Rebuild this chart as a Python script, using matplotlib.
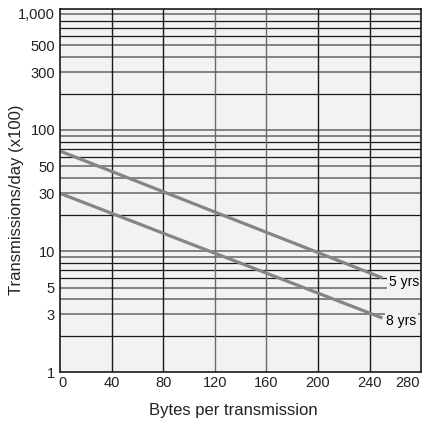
import matplotlib
matplotlib.use("Agg")
import matplotlib.pyplot as plt
import matplotlib.transforms as mtransforms

plt.rcParams['font.family'] = ['Liberation Sans', 'DejaVu Sans']

# data
bytes_x = [0, 250]
yrs5 = [67, 6]
yrs8 = [30, 2.8]
series_labels = ["5 yrs", "8 yrs"]
label_x = [255, 253]
label_y = [5.6, 2.65]

x_ticks = [0, 40, 80, 120, 160, 200, 240, 280]
y_ticks = [1, 3, 5, 10, 30, 50, 100, 300, 500, 1000]
y_tick_labels = ["1", "3", "5", "10", "30", "50", "100", "300", "500", "1,000"]

bg = "#f1f2f2"
line_col = "#858585"

fig = plt.figure(figsize=(4.22, 4.22), dpi=100)
ax = fig.add_axes([0.142, 0.118, 0.856, 0.861])
ax.set_facecolor(bg)
ax.set_yscale("log")
ax.set_xlim(0, 280)
ax.set_ylim(1, 1000)

# horizontal grid: every 2..9 of each decade
for dec in [1, 10, 100]:
    for m in range(2, 11):
        v = m * dec
        if v >= 1000:
            continue
        col = "#7a7a7a" if m in (3, 4, 5, 9, 10) else "#1a1a1a"
        lw = 1.3 if col == "#7a7a7a" else 0.9
        ax.axhline(v, color=col, lw=lw, zorder=1)

for xv in x_ticks[1:-1]:
    col = "#6a6a6a" if xv in (120, 160) else "#1a1a1a"
    ax.axvline(xv, color=col, lw=1.0, zorder=1)

ax.plot(bytes_x, yrs5, color=line_col, lw=2.3, zorder=3, solid_capstyle="butt")
ax.plot(bytes_x, yrs8, color=line_col, lw=2.3, zorder=3, solid_capstyle="butt")

for lab, lx, ly in zip(series_labels, label_x, label_y):
    ax.text(lx, ly, lab, fontsize=10, ha="left", va="center", zorder=4,
            bbox=dict(boxstyle="square,pad=0.12", fc=bg, ec="none"))

ax.set_xticks(x_ticks)
ax.set_xticklabels([str(v) for v in x_ticks])
ax.set_yticks(y_ticks)
ax.set_yticklabels(y_tick_labels)
ax.minorticks_off()
ax.tick_params(length=0, labelsize=10.5, colors="#222222")
ax.tick_params(axis="x", pad=2.5)
ax.tick_params(axis="y", pad=3.5)

xl = ax.get_xticklabels()
xl[0].set_transform(xl[0].get_transform() + mtransforms.ScaledTranslation(3 / 100, 0, fig.dpi_scale_trans))
xl[-1].set_transform(xl[-1].get_transform() + mtransforms.ScaledTranslation(-14 / 100, 0, fig.dpi_scale_trans))
yl = ax.get_yticklabels()
yl[-1].set_transform(yl[-1].get_transform() + mtransforms.ScaledTranslation(0, -5 / 100, fig.dpi_scale_trans))

for s in ax.spines.values():
    s.set_color("#1a1a1a")
    s.set_linewidth(1.2)
    s.set_zorder(5)

ax.set_xlabel("Bytes per transmission", fontsize=12, color="#222222")
ax.set_ylabel("Transmissions/day (x100)", fontsize=12, color="#222222")
ax.xaxis.set_label_coords(0.479, -0.085)
ax.yaxis.set_label_coords(-0.100, 0.474)

fig.savefig("out.png", dpi=100)
